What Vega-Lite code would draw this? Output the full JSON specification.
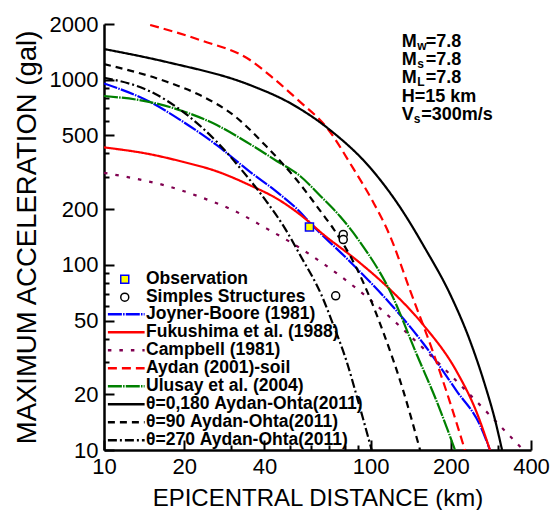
{
  "$schema": "https://vega.github.io/schema/vega-lite/v6.json",
  "width": 427,
  "height": 426,
  "autosize": "none",
  "padding": {"left": 104, "top": 24, "right": 19, "bottom": 60},
  "background": "white",
  "config": {
    "font": "Liberation Sans",
    "view": {"stroke": null},
    "axis": {
      "grid": false,
      "domainColor": "black",
      "domainWidth": 2.5,
      "tickColor": "black",
      "tickWidth": 2,
      "labelColor": "black",
      "labelFont": "Liberation Sans",
      "labelFontSize": 22,
      "titleColor": "black",
      "titleFont": "Liberation Sans",
      "titleFontWeight": "normal"
    },
    "legend": {
      "labelFont": "Liberation Sans",
      "labelFontSize": 17.5,
      "labelFontWeight": "bold",
      "labelColor": "black",
      "labelLimit": 400,
      "padding": 0,
      "offset": 0
    }
  },
  "datasets": {
    "curves": [
      {"series": "Joyner-Boore (1981)", "distance": 10, "accel": 955},
      {"series": "Joyner-Boore (1981)", "distance": 15, "accel": 754},
      {"series": "Joyner-Boore (1981)", "distance": 19.8, "accel": 593},
      {"series": "Joyner-Boore (1981)", "distance": 26.5, "accel": 443},
      {"series": "Joyner-Boore (1981)", "distance": 35.3, "accel": 318},
      {"series": "Joyner-Boore (1981)", "distance": 44.5, "accel": 248},
      {"series": "Joyner-Boore (1981)", "distance": 54.4, "accel": 193},
      {"series": "Joyner-Boore (1981)", "distance": 59, "accel": 170},
      {"series": "Joyner-Boore (1981)", "distance": 83.8, "accel": 104},
      {"series": "Joyner-Boore (1981)", "distance": 118.4, "accel": 61.9},
      {"series": "Joyner-Boore (1981)", "distance": 157.8, "accel": 37.6},
      {"series": "Joyner-Boore (1981)", "distance": 210.6, "accel": 20.8},
      {"series": "Joyner-Boore (1981)", "distance": 257.6, "accel": 13.6},
      {"series": "Joyner-Boore (1981)", "distance": 280.6, "accel": 10},

      {"series": "Fukushima et al. (1988)", "distance": 10, "accel": 431},
      {"series": "Fukushima et al. (1988)", "distance": 15, "accel": 395},
      {"series": "Fukushima et al. (1988)", "distance": 19.8, "accel": 360},
      {"series": "Fukushima et al. (1988)", "distance": 26.5, "accel": 320},
      {"series": "Fukushima et al. (1988)", "distance": 35.3, "accel": 269},
      {"series": "Fukushima et al. (1988)", "distance": 44.5, "accel": 228},
      {"series": "Fukushima et al. (1988)", "distance": 54.4, "accel": 187},
      {"series": "Fukushima et al. (1988)", "distance": 66.5, "accel": 146},
      {"series": "Fukushima et al. (1988)", "distance": 88.7, "accel": 106},
      {"series": "Fukushima et al. (1988)", "distance": 118.4, "accel": 73.6},
      {"series": "Fukushima et al. (1988)", "distance": 157.8, "accel": 47.4},
      {"series": "Fukushima et al. (1988)", "distance": 210.6, "accel": 26.5},
      {"series": "Fukushima et al. (1988)", "distance": 250, "accel": 16},
      {"series": "Fukushima et al. (1988)", "distance": 280.6, "accel": 10},

      {"series": "Campbell (1981)", "distance": 10, "accel": 314},
      {"series": "Campbell (1981)", "distance": 13, "accel": 293},
      {"series": "Campbell (1981)", "distance": 17.2, "accel": 267},
      {"series": "Campbell (1981)", "distance": 22.9, "accel": 233},
      {"series": "Campbell (1981)", "distance": 30.6, "accel": 197},
      {"series": "Campbell (1981)", "distance": 40.8, "accel": 157},
      {"series": "Campbell (1981)", "distance": 49.9, "accel": 133},
      {"series": "Campbell (1981)", "distance": 88.7, "accel": 74.4},
      {"series": "Campbell (1981)", "distance": 157.8, "accel": 35.4},
      {"series": "Campbell (1981)", "distance": 280.6, "accel": 15.4},
      {"series": "Campbell (1981)", "distance": 374, "accel": 10},

      {"series": "Aydan (2001)-soil", "distance": 14.9, "accel": 1975},
      {"series": "Aydan (2001)-soil", "distance": 22.9, "accel": 1639},
      {"series": "Aydan (2001)-soil", "distance": 35.3, "accel": 1278},
      {"series": "Aydan (2001)-soil", "distance": 43.1, "accel": 1021},
      {"series": "Aydan (2001)-soil", "distance": 53.5, "accel": 776},
      {"series": "Aydan (2001)-soil", "distance": 68.7, "accel": 549},
      {"series": "Aydan (2001)-soil", "distance": 86, "accel": 333},
      {"series": "Aydan (2001)-soil", "distance": 101.3, "accel": 224},
      {"series": "Aydan (2001)-soil", "distance": 118.4, "accel": 143},
      {"series": "Aydan (2001)-soil", "distance": 140.6, "accel": 73},
      {"series": "Aydan (2001)-soil", "distance": 171.6, "accel": 33.8},
      {"series": "Aydan (2001)-soil", "distance": 198.7, "accel": 18.1},
      {"series": "Aydan (2001)-soil", "distance": 226, "accel": 10},

      {"series": "Ulusay et al. (2004)", "distance": 10, "accel": 817},
      {"series": "Ulusay et al. (2004)", "distance": 14.9, "accel": 757},
      {"series": "Ulusay et al. (2004)", "distance": 19.8, "accel": 676},
      {"series": "Ulusay et al. (2004)", "distance": 26.5, "accel": 569},
      {"series": "Ulusay et al. (2004)", "distance": 35.3, "accel": 449},
      {"series": "Ulusay et al. (2004)", "distance": 44.6, "accel": 363},
      {"series": "Ulusay et al. (2004)", "distance": 54.4, "accel": 302},
      {"series": "Ulusay et al. (2004)", "distance": 64.6, "accel": 237},
      {"series": "Ulusay et al. (2004)", "distance": 76.8, "accel": 183},
      {"series": "Ulusay et al. (2004)", "distance": 91.3, "accel": 133},
      {"series": "Ulusay et al. (2004)", "distance": 118.4, "accel": 72},
      {"series": "Ulusay et al. (2004)", "distance": 149.5, "accel": 32.5},
      {"series": "Ulusay et al. (2004)", "distance": 177.7, "accel": 18.1},
      {"series": "Ulusay et al. (2004)", "distance": 207.5, "accel": 10},

      {"series": "θ=0,180 Aydan-Ohta(2011)", "distance": 10, "accel": 1465},
      {"series": "θ=0,180 Aydan-Ohta(2011)", "distance": 17.2, "accel": 1246},
      {"series": "θ=0,180 Aydan-Ohta(2011)", "distance": 35.3, "accel": 936},
      {"series": "θ=0,180 Aydan-Ohta(2011)", "distance": 49.9, "accel": 748},
      {"series": "θ=0,180 Aydan-Ohta(2011)", "distance": 70.5, "accel": 535},
      {"series": "θ=0,180 Aydan-Ohta(2011)", "distance": 100, "accel": 333},
      {"series": "θ=0,180 Aydan-Ohta(2011)", "distance": 129, "accel": 205},
      {"series": "θ=0,180 Aydan-Ohta(2011)", "distance": 160.1, "accel": 123},
      {"series": "θ=0,180 Aydan-Ohta(2011)", "distance": 198.7, "accel": 69.6},
      {"series": "θ=0,180 Aydan-Ohta(2011)", "distance": 236, "accel": 39},
      {"series": "θ=0,180 Aydan-Ohta(2011)", "distance": 268.9, "accel": 22.4},
      {"series": "θ=0,180 Aydan-Ohta(2011)", "distance": 293.3, "accel": 14.5},
      {"series": "θ=0,180 Aydan-Ohta(2011)", "distance": 311.5, "accel": 10},

      {"series": "θ=90 Aydan-Ohta(2011)", "distance": 10, "accel": 1215},
      {"series": "θ=90 Aydan-Ohta(2011)", "distance": 17.2, "accel": 975},
      {"series": "θ=90 Aydan-Ohta(2011)", "distance": 22.9, "accel": 826},
      {"series": "θ=90 Aydan-Ohta(2011)", "distance": 30.6, "accel": 644},
      {"series": "θ=90 Aydan-Ohta(2011)", "distance": 40.8, "accel": 434},
      {"series": "θ=90 Aydan-Ohta(2011)", "distance": 52.8, "accel": 288},
      {"series": "θ=90 Aydan-Ohta(2011)", "distance": 66.5, "accel": 186},
      {"series": "θ=90 Aydan-Ohta(2011)", "distance": 72.5, "accel": 157},
      {"series": "θ=90 Aydan-Ohta(2011)", "distance": 88.7, "accel": 95.8},
      {"series": "θ=90 Aydan-Ohta(2011)", "distance": 111.7, "accel": 43.2},
      {"series": "θ=90 Aydan-Ohta(2011)", "distance": 132.8, "accel": 20.8},
      {"series": "θ=90 Aydan-Ohta(2011)", "distance": 153.4, "accel": 10},

      {"series": "θ=270 Aydan-Ohta(2011)", "distance": 10, "accel": 1025},
      {"series": "θ=270 Aydan-Ohta(2011)", "distance": 15, "accel": 861},
      {"series": "θ=270 Aydan-Ohta(2011)", "distance": 19.8, "accel": 671},
      {"series": "θ=270 Aydan-Ohta(2011)", "distance": 26.5, "accel": 462},
      {"series": "θ=270 Aydan-Ohta(2011)", "distance": 33.3, "accel": 318},
      {"series": "θ=270 Aydan-Ohta(2011)", "distance": 40.8, "accel": 219},
      {"series": "θ=270 Aydan-Ohta(2011)", "distance": 47.8, "accel": 157},
      {"series": "θ=270 Aydan-Ohta(2011)", "distance": 54.4, "accel": 113},
      {"series": "θ=270 Aydan-Ohta(2011)", "distance": 65.6, "accel": 68.2},
      {"series": "θ=270 Aydan-Ohta(2011)", "distance": 72.5, "accel": 47.4},
      {"series": "θ=270 Aydan-Ohta(2011)", "distance": 81.4, "accel": 30},
      {"series": "θ=270 Aydan-Ohta(2011)", "distance": 90, "accel": 18.2},
      {"series": "θ=270 Aydan-Ohta(2011)", "distance": 101, "accel": 10}
    ],
    "points": [
      {"kind": "Observation", "distance": 59, "accel": 160},
      {"kind": "Simples Structures", "distance": 79, "accel": 146},
      {"kind": "Simples Structures", "distance": 79, "accel": 137},
      {"kind": "Simples Structures", "distance": 74, "accel": 68}
    ]
  },
  "layer": [
    {
      "data": {"name": "curves"},
      "mark": {"type": "line", "strokeWidth": 2.2, "clip": true, "interpolate": "monotone"},
      "encoding": {
        "x": {
          "field": "distance", "type": "quantitative",
          "scale": {"type": "log", "domain": [10, 400], "nice": false},
          "axis": {
            "title": "EPICENTRAL DISTANCE (km)",
            "titleFontSize": 24,
            "titlePadding": 4,
            "values": [10, 20, 30, 40, 50, 60, 70, 80, 90, 100, 200, 300, 400],
            "labelExpr": "indexof([10, 20, 40, 100, 200, 400], datum.value) >= 0 ? datum.value + '' : ''",
            "labelFlush": false,
            "labelOverlap": false,
            "labelPadding": 16,
            "tickSize": {"condition": {"test": "indexof([10, 20, 40, 100, 200, 400], datum.value) >= 0", "value": -10}, "value": -5}
          }
        },
        "y": {
          "field": "accel", "type": "quantitative",
          "scale": {"type": "log", "domain": [10, 2000], "nice": false},
          "axis": {
            "title": "MAXIMUM ACCELERATION (gal)",
            "titleFontSize": 27.5,
            "titlePadding": 8,
            "values": [10, 20, 30, 40, 50, 60, 70, 80, 90, 100, 200, 300, 400, 500, 600, 700, 800, 900, 1000, 2000],
            "labelExpr": "indexof([10, 20, 50, 100, 200, 500, 1000, 2000], datum.value) >= 0 ? datum.value + '' : ''",
            "labelFlush": false,
            "labelOverlap": false,
            "labelPadding": 16,
            "tickSize": {"condition": {"test": "indexof([10, 20, 50, 100, 200, 500, 1000, 2000], datum.value) >= 0", "value": -10}, "value": -5}
          }
        },
        "color": {
          "field": "series", "type": "nominal",
          "scale": {
            "domain": ["Joyner-Boore (1981)", "Fukushima et al. (1988)", "Campbell (1981)", "Aydan (2001)-soil", "Ulusay et al. (2004)", "θ=0,180 Aydan-Ohta(2011)", "θ=90 Aydan-Ohta(2011)", "θ=270 Aydan-Ohta(2011)"],
            "range": ["#0000FF", "#FF0000", "#800050", "#FF0000", "#008000", "#000000", "#000000", "#000000"]
          },
          "legend": {
            "title": null,
            "orient": "none",
            "legendX": 13.5,
            "legendY": 281.5,
            "symbolType": "M-3,0H3",
            "symbolSize": 150,
            "symbolStrokeWidth": 2.5,
            "labelOffset": 11,
            "rowPadding": -1.4
          }
        },
        "strokeDash": {
          "field": "series", "type": "nominal",
          "scale": {
            "domain": ["Joyner-Boore (1981)", "Fukushima et al. (1988)", "Campbell (1981)", "Aydan (2001)-soil", "Ulusay et al. (2004)", "θ=0,180 Aydan-Ohta(2011)", "θ=90 Aydan-Ohta(2011)", "θ=270 Aydan-Ohta(2011)"],
            "range": [[14, 1.2, 1.5, 1.2], [1, 0], [3.5, 8], [9, 5], [14, 1.2, 1.5, 1.2], [1, 0], [7, 5], [9, 3, 2, 3]]
          },
          "legend": {
            "title": null,
            "orient": "none",
            "legendX": 13.5,
            "legendY": 281.5,
            "symbolType": "M-3,0H3",
            "symbolSize": 150,
            "symbolStrokeWidth": 2.5,
            "labelOffset": 11,
            "rowPadding": -1.4
          }
        }
      }
    },
    {
      "data": {"name": "points"},
      "mark": {"type": "point", "filled": true, "strokeWidth": 1.5, "opacity": 1, "size": 64},
      "encoding": {
        "x": {"field": "distance", "type": "quantitative"},
        "y": {"field": "accel", "type": "quantitative"},
        "shape": {
          "field": "kind", "type": "nominal",
          "scale": {"domain": ["Observation", "Simples Structures"], "range": ["square", "circle"]},
          "legend": {
            "title": null,
            "orient": "none",
            "legendX": 12,
            "legendY": 246.4,
            "symbolSize": 64,
            "symbolStrokeWidth": 1.5,
            "labelOffset": 12.4,
            "rowPadding": -2.3
          }
        },
        "fill": {
          "field": "kind", "type": "nominal",
          "scale": {"domain": ["Observation", "Simples Structures"], "range": ["#FFFF00", "#FFFFFF"]},
          "legend": {
            "title": null,
            "orient": "none",
            "legendX": 12,
            "legendY": 246.4,
            "symbolSize": 64,
            "symbolStrokeWidth": 1.5,
            "labelOffset": 12.4,
            "rowPadding": -2.3
          }
        },
        "stroke": {
          "field": "kind", "type": "nominal",
          "scale": {"domain": ["Observation", "Simples Structures"], "range": ["#0000FF", "#000000"]},
          "legend": {
            "title": null,
            "orient": "none",
            "legendX": 12,
            "legendY": 246.4,
            "symbolSize": 64,
            "symbolStrokeWidth": 1.5,
            "labelOffset": 12.4,
            "rowPadding": -2.3
          }
        }
      }
    },
    {
      "data": {"values": [{}]},
      "mark": {"type": "text", "text": ["M", "M", "M", "H=15 km", "V"], "align": "left", "baseline": "alphabetic", "fontSize": 18, "fontWeight": "bold", "lineHeight": 18.3, "color": "black"},
      "encoding": {"x": {"datum": 131}, "y": {"datum": 1508}}
    },
    {
      "data": {"values": [{}]},
      "mark": {"type": "text", "text": ["w", "s", "L"], "align": "left", "baseline": "alphabetic", "fontSize": 12, "fontWeight": "bold", "lineHeight": 18.3, "dx": 15.5, "dy": 3, "color": "black"},
      "encoding": {"x": {"datum": 131}, "y": {"datum": 1508}}
    },
    {
      "data": {"values": [{}]},
      "mark": {"type": "text", "text": ["=7.8", "=7.8", "=7.8"], "align": "left", "baseline": "alphabetic", "fontSize": 18, "fontWeight": "bold", "lineHeight": 18.3, "dx": 24, "color": "black"},
      "encoding": {"x": {"datum": 131}, "y": {"datum": 1508}}
    },
    {
      "data": {"values": [{}]},
      "mark": {"type": "text", "text": "s", "align": "left", "baseline": "alphabetic", "fontSize": 12, "fontWeight": "bold", "dx": 12, "dy": 3, "color": "black"},
      "encoding": {"x": {"datum": 131}, "y": {"datum": 606}}
    },
    {
      "data": {"values": [{}]},
      "mark": {"type": "text", "text": "=300m/s", "align": "left", "baseline": "alphabetic", "fontSize": 18, "fontWeight": "bold", "dx": 19.5, "color": "black"},
      "encoding": {"x": {"datum": 131}, "y": {"datum": 606}}
    }
  ]
}
